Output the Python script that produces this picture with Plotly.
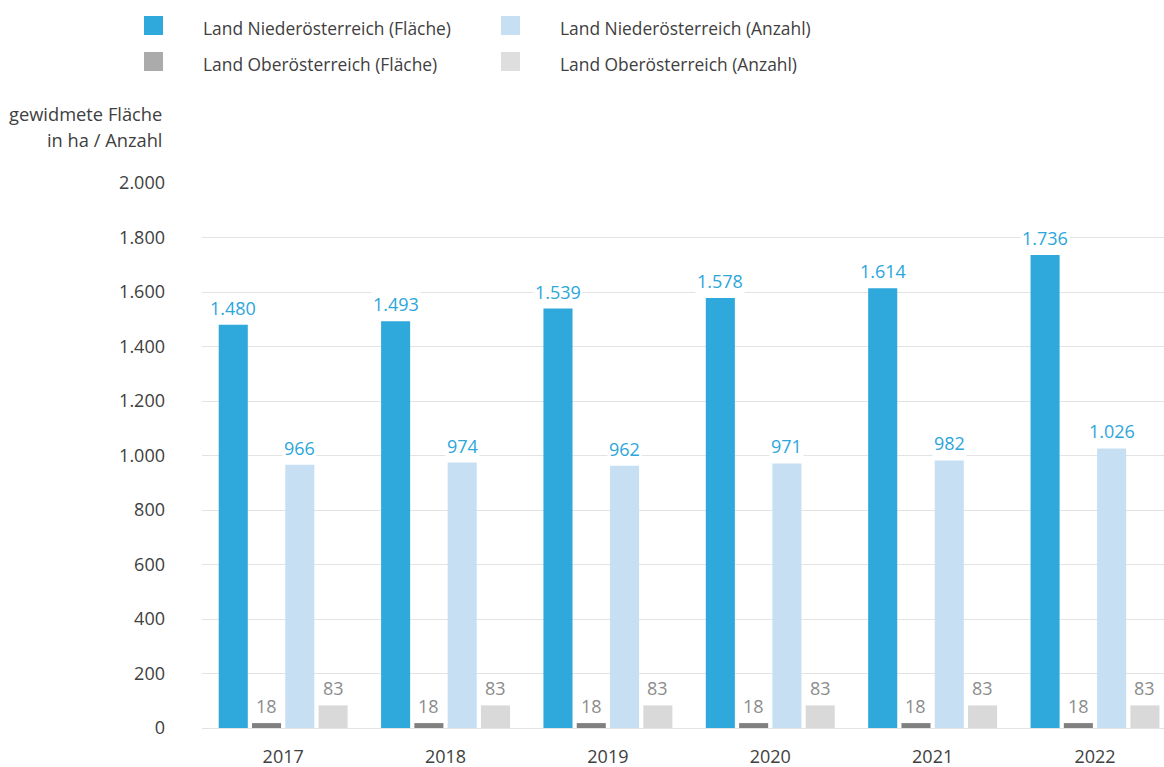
import plotly.graph_objects as go

# --- data -------------------------------------------------------------
YEARS = ["2017", "2018", "2019", "2020", "2021", "2022"]
NOE_FLAECHE = [1480, 1493, 1539, 1578, 1614, 1736]
OOE_FLAECHE = [18, 18, 18, 18, 18, 18]
NOE_ANZAHL = [966, 974, 962, 971, 982, 1026]
OOE_ANZAHL = [83, 83, 83, 83, 83, 83]

SERIES_NAMES = [
    "Land Niederösterreich (Fläche)",
    "Land Oberösterreich (Fläche)",
    "Land Niederösterreich (Anzahl)",
    "Land Oberösterreich (Anzahl)",
]
SERIES_VALUES = [NOE_FLAECHE, OOE_FLAECHE, NOE_ANZAHL, OOE_ANZAHL]
BAR_COLORS = ["#2FA8DC", "#808080", "#C6DFF3", "#D9D9D9"]
SWATCH_COLORS = ["#2FA8DC", "#ABABAB", "#C6DFF3", "#DEDEDE"]
LABEL_COLORS = ["#2CA6DB", "#8C8C8C", "#2CA6DB", "#8C8C8C"]

Y_TICKS = [0, 200, 400, 600, 800, 1000, 1200, 1400, 1600, 1800, 2000]

FONT = "Open Sans"
TEXT = "#404040"

# --- geometry ---------------------------------------------------------
W, H = 1164, 767
M_L, M_T, M_B = 202, 183, 39
PLOT_W = W - M_L
PLOT_H = H - M_T - M_B
SLOT = 0.205      # distance between bar centres inside a year group
BAR_W = 0.179     # bar width in category units
X_MAX = 5.425


def px(x):
    return (x - M_L) / PLOT_W


def py(y):
    return (H - M_B - y) / PLOT_H


def fmt(v):
    return f"{v:,}".replace(",", ".")


fig = go.Figure()
annotations = []

for k, (name, vals) in enumerate(zip(SERIES_NAMES, SERIES_VALUES)):
    off = (k - 1.5) * SLOT
    xs = [i + off for i in range(len(YEARS))]
    fig.add_trace(go.Bar(
        x=xs, y=vals, width=BAR_W, name=name,
        marker=dict(color=BAR_COLORS[k], line=dict(width=0)),
        showlegend=False, hoverinfo="skip",
    ))
    for x, v in zip(xs, vals):
        annotations.append(dict(
            x=x, y=v, xref="x", yref="y", text=fmt(v), showarrow=False,
            yanchor="bottom", yshift=3, bgcolor="white", borderpad=1,
            font=dict(family=FONT, size=18, color=LABEL_COLORS[k]),
        ))

# --- legend drawn as swatches + text ----------------------------------
shapes = []
legend_pos = [(144, 201, 25.5), (144, 201, 61.5), (501, 558, 25.5), (501, 558, 61.5)]
for k, (sx, tx, cy) in enumerate(legend_pos):
    shapes.append(dict(
        type="rect", xref="paper", yref="paper",
        x0=px(sx), x1=px(sx + 19), y0=py(cy - 9.5), y1=py(cy + 9.5),
        fillcolor=SWATCH_COLORS[k], line=dict(width=0), layer="above",
    ))
    annotations.append(dict(
        x=px(tx), y=py(cy + 2.5), xref="paper", yref="paper", text=SERIES_NAMES[k],
        showarrow=False, xanchor="left", yanchor="middle",
        font=dict(family=FONT, size=17.4, color=TEXT),
    ))

# --- axis title -------------------------------------------------------
for line, cy in [("gewidmete Fläche", 113), ("in ha / Anzahl", 139)]:
    annotations.append(dict(
        x=px(164), y=py(cy), xref="paper", yref="paper", text=line,
        showarrow=False, xanchor="right", yanchor="middle",
        font=dict(family=FONT, size=18.3, color=TEXT),
    ))

fig.update_layout(
    width=W, height=H,
    margin=dict(l=M_L, r=0, t=M_T, b=M_B, pad=0),
    paper_bgcolor="white", plot_bgcolor="white",
    separators=",.",
    barmode="overlay",
    font=dict(family=FONT, color=TEXT),
    xaxis=dict(
        range=[-0.5, X_MAX], tickvals=list(range(len(YEARS))), ticktext=YEARS,
        showgrid=False, zeroline=False, showline=False, ticks="",
        ticklabelstandoff=16, tickfont=dict(family=FONT, size=18, color=TEXT),
    ),
    yaxis=dict(
        range=[0, 2000], tickvals=Y_TICKS, tickformat=",d",
        showgrid=True, gridcolor="#E3E3E3", gridwidth=1,
        zeroline=True, zerolinecolor="#E3E3E3", zerolinewidth=1,
        showline=False, ticks="", ticklabelstandoff=36,
        tickfont=dict(family=FONT, size=18, color=TEXT),
    ),
    shapes=shapes,
    annotations=annotations,
)

fig.write_html("out.html")
